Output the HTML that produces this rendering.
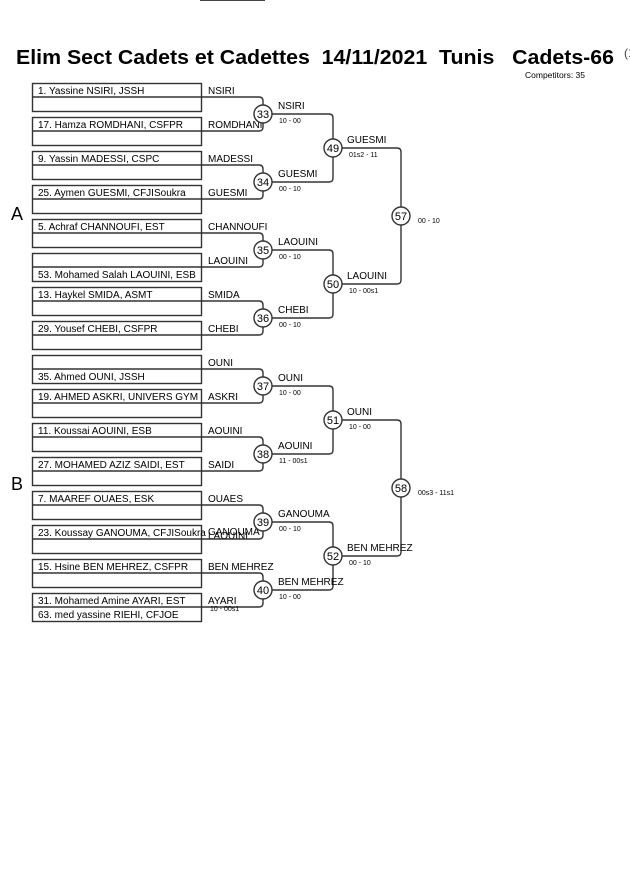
<!DOCTYPE html>
<html><head><meta charset="utf-8"><style>
html,body{margin:0;padding:0;background:#fff;width:630px;height:891px;overflow:hidden}
svg{display:block;font-family:"Liberation Sans",Arial,sans-serif}
</style></head><body>
<svg id="s" width="630" height="891" xmlns="http://www.w3.org/2000/svg">
<line x1="200" y1="0.5" x2="265" y2="0.5" stroke="#444" stroke-width="1"/>
<text x="16" y="64" font-size="20.5" font-weight="bold" style="white-space:pre" xml:space="preserve" textLength="598" lengthAdjust="spacingAndGlyphs">Elim Sect Cadets et Cadettes  14/11/2021  Tunis   Cadets-66</text>
<text x="624" y="57" font-size="12" fill="#444">(1</text>
<text x="525" y="78" font-size="8.5">Competitors: 35</text>
<text x="11" y="220" font-size="18">A</text>
<text x="11" y="490" font-size="18">B</text>
</svg>
<script>
var s=document.getElementById('s'),h='';
function T(x,y,t,fs,extra){h+='<text x="'+x+'" y="'+y+'" font-size="'+fs+'" '+(extra||'')+'>'+t+'</text>';}
var slots=[
['1. Yassine NSIRI, JSSH','','NSIRI'],
['17. Hamza ROMDHANI, CSFPR','','ROMDHANI'],
['9. Yassin MADESSI, CSPC','','MADESSI'],
['25. Aymen GUESMI, CFJISoukra','','GUESMI'],
['5. Achraf CHANNOUFI, EST','','CHANNOUFI'],
['','53. Mohamed Salah LAOUINI, ESB','LAOUINI'],
['13. Haykel SMIDA, ASMT','','SMIDA'],
['29. Yousef CHEBI, CSFPR','','CHEBI'],
['','35. Ahmed OUNI, JSSH','OUNI'],
['19. AHMED ASKRI, UNIVERS GYM','','ASKRI'],
['11. Koussai AOUINI, ESB','','AOUINI'],
['27. MOHAMED AZIZ SAIDI, EST','','SAIDI'],
['7. MAAREF OUAES, ESK','','OUAES'],
['23. Koussay GANOUMA, CFJISoukra','','GANOUMA'],
['15. Hsine BEN MEHREZ, CSFPR','','BEN MEHREZ'],
['31. Mohamed Amine AYARI, EST','63. med yassine RIEHI, CFJOE','AYARI']];
var st='stroke="#333" stroke-width="1.4" fill="none"';
var r1=[[33,'NSIRI','10 - 00'],[34,'GUESMI','00 - 10'],[35,'LAOUINI','00 - 10'],[36,'CHEBI','00 - 10'],[37,'OUNI','10 - 00'],[38,'AOUINI','11 - 00s1'],[39,'GANOUMA','00 - 10'],[40,'BEN MEHREZ','10 - 00']];
var r2=[[49,'GUESMI','01s2 - 11'],[50,'LAOUINI','10 - 00s1'],[51,'OUNI','10 - 00'],[52,'BEN MEHREZ','00 - 10']];
var r3=[[57,'00 - 10'],[58,'00s3 - 11s1']];
for(var i=0;i<16;i++){
 var t=83+i*34,m=t+14,sl=slots[i];
 h+='<rect x="32.5" y="'+(t+.5)+'" width="169" height="28" '+st+'/>';
 h+='<line x1="32" y1="'+m+'" x2="201" y2="'+m+'" '+st+'/>';
 if(sl[0])T(38,t+11,sl[0],10);
 if(sl[1])T(38,t+25,sl[1],10);
 if(i==13){T(208,t+14,'LAOUINI',10);T(208,t+10,sl[2],10);}
 else T(208,t+11,sl[2],10);
}
function bracket(xa,y1,y2,xc,r){
 var c=(y1+y2)/2;
 h+='<path d="M'+xa+' '+y1+' H'+(xc-4)+' Q'+xc+' '+y1+' '+xc+' '+(y1+4)+' V'+(c-r)+'" '+st+'/>';
 h+='<path d="M'+xa+' '+y2+' H'+(xc-4)+' Q'+xc+' '+y2+' '+xc+' '+(y2-4)+' V'+(c+r)+'" '+st+'/>';
 return c;
}
function circ(x,y,n,r){h+='<circle cx="'+x+'" cy="'+y+'" r="'+r+'" fill="#fff" stroke="#333" stroke-width="1.4"/>';T(x,y+4,n,11,'text-anchor="middle"');}
var c1=[];
for(var k=0;k<8;k++){var y1=83+2*k*34+14,y2=y1+34;c1.push(bracket(201,y1,y2,263,9));}
var c2=[];
for(var k=0;k<4;k++){c2.push(bracket(272,c1[2*k],c1[2*k+1],333,9));}
var c3=[];
for(var k=0;k<2;k++){c3.push(bracket(342,c2[2*k],c2[2*k+1],401,9));}
for(var k=0;k<8;k++){circ(263,c1[k],r1[k][0],9);T(278,c1[k]-5,r1[k][1],10);T(279,c1[k]+9,r1[k][2],7);}
for(var k=0;k<4;k++){circ(333,c2[k],r2[k][0],9);T(347,c2[k]-5,r2[k][1],10);T(349,c2[k]+9,r2[k][2],7);}
for(var k=0;k<2;k++){circ(401,c3[k],r3[k][0],9);T(418,c3[k]+7,r3[k][1],7);}
T(210,611,'10 - 00s1',7);
s.insertAdjacentHTML('beforeend',h);
</script>
</body></html>
